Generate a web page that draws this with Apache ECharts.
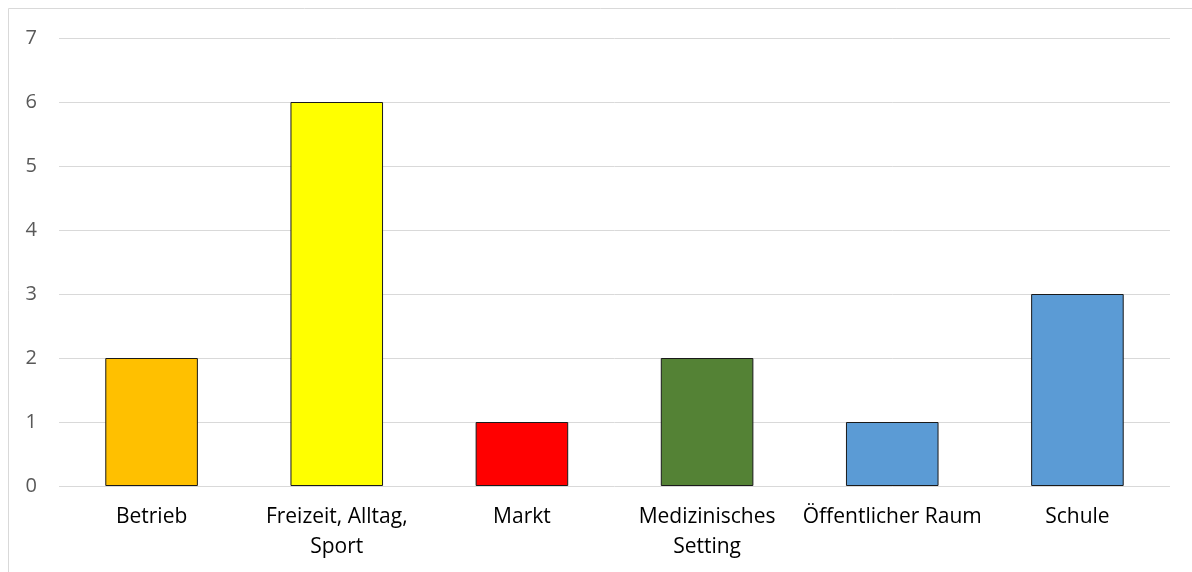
<!DOCTYPE html>
<html><head><meta charset="utf-8">
<script src="https://cdn.jsdelivr.net/npm/echarts@6/dist/echarts.min.js"></script>
<style>html,body{margin:0;padding:0;background:#fff}#c{width:1192px;height:572px}</style>
</head><body><div id="c"></div>
<script>
const categories = ['Betrieb', 'Freizeit, Alltag,\nSport', 'Markt', 'Medizinisches\nSetting', 'Öffentlicher Raum', 'Schule'];
const values = [2, 6, 1, 2, 1, 3];
const barColors = ['#FFC000', '#FFFF00', '#FF0000', '#548235', '#5B9BD5', '#5B9BD5'];
const yTicks = [0, 1, 2, 3, 4, 5, 6, 7];

const chart = echarts.init(document.getElementById('c'), null, {renderer: 'canvas'});
chart.setOption({
  animation: false,
  backgroundColor: '#fff',
  graphic: [{
    type: 'rect', shape: {x: 8.5, y: 8.5, width: 1300, height: 700},
    style: {fill: 'none', stroke: '#d9d9d9', lineWidth: 1}, silent: true, z: -10
  }],
  grid: {left: 59, right: 22, top: 38, bottom: 86, containLabel: false},
  xAxis: {
    type: 'category', data: categories,
    axisLine: {show: false}, axisTick: {show: false},
    axisLabel: {color: '#000', fontFamily: 'Open Sans', fontSize: 21, margin: 16, lineHeight: 30, interval: 0}
  },
  yAxis: {
    type: 'value', min: yTicks[0], max: yTicks[yTicks.length - 1], interval: 1,
    axisLine: {show: false}, axisTick: {show: false},
    splitLine: {lineStyle: {color: '#d9d9d9', width: 1}},
    axisLabel: {color: '#595959', fontFamily: 'Open Sans', fontSize: 20, margin: 22}
  },
  series: [{
    type: 'bar', barWidth: '50%',
    data: values.map((v, i) => ({value: v, itemStyle: {color: barColors[i]}})),
    itemStyle: {borderColor: '#1a1a1a', borderWidth: 1}
  }]
});
</script></body></html>
